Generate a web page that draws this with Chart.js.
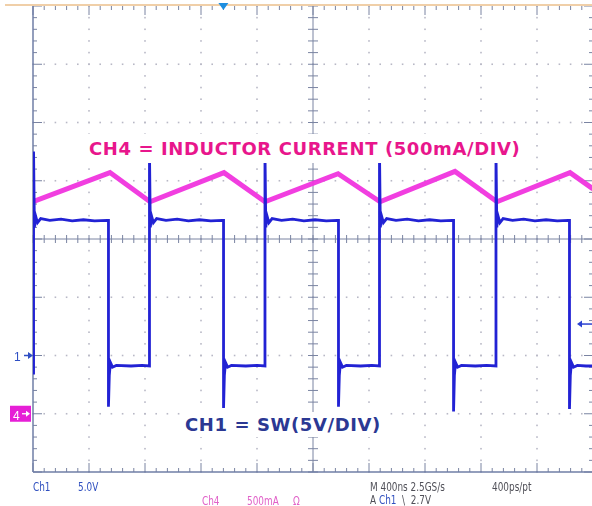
<!DOCTYPE html>
<html><head><meta charset="utf-8">
<script src="https://cdn.jsdelivr.net/npm/chart.js@4"></script>
<style>
html,body{margin:0;padding:0;background:#fff;overflow:hidden;width:592px;height:506px;}
#wrap{position:relative;width:600px;height:506px;}
canvas{position:absolute;left:0;top:0;}
.t{position:absolute;white-space:nowrap;}
.big{font-family:"DejaVu Sans",Verdana,sans-serif;font-weight:bold;font-size:18px;line-height:21px;letter-spacing:0.6px;background:#fff;}
.ro{font-family:"Liberation Sans Narrow","DejaVu Sans Condensed","Liberation Sans",sans-serif;font-size:11.5px;line-height:12px;transform:scaleX(0.86);transform-origin:0 50%;}
.mk{font-family:"Liberation Sans",sans-serif;font-size:12px;line-height:14px;}
</style></head><body>
<div id="wrap">
<canvas id="c" width="600" height="506"></canvas>
<div class="t big" style="left:85px;top:134px;padding:4px;color:#e8168c;">CH4 = INDUCTOR CURRENT (500mA/DIV)</div>
<div class="t big" style="left:183px;top:412px;padding:2px;color:#2b3893;">CH1 = SW(5V/DIV)</div>
<div class="t mk" style="left:14px;top:350px;color:#2f4fc4;">1</div>
<div class="t mk" style="left:13px;top:409px;color:#ffffff;">4</div>
<div class="t ro" style="left:33px;top:481px;color:#2f4fbf;">Ch1</div>
<div class="t ro" style="left:78px;top:481px;color:#2f4fbf;">5.0V</div>
<div class="t ro" style="left:202px;top:495px;color:#e060c8;">Ch4</div>
<div class="t ro" style="left:247px;top:495px;color:#e060c8;">500mA</div>
<div class="t ro" style="left:293px;top:495px;color:#e060c8;">Ω</div>
<div class="t ro" style="left:370px;top:481px;color:#505058;">M 400ns 2.5GS/s</div>
<div class="t ro" style="left:492px;top:481px;color:#505058;">400ps/pt</div>
<div class="t ro" style="left:370px;top:494px;color:#505058;">A <span style="color:#2f4fbf">Ch1</span> &nbsp;\ &nbsp;2.7V</div>
</div>
<script>
// ---- axis definitions (oscilloscope divisions) ----
const X_MIN = 0, X_STEP = 400, X_DIV = 10;        // time, ns (400 ns/div)
const V_MIN = -10, V_STEP = 5, V_DIV = 8;          // CH1, volts (5 V/div)
const A_MIN = -0.5, A_STEP = 0.5;                  // CH4, amps (500 mA/div)
const TRIG_T = 1360, TRIG_V = 2.7;                 // trigger position / level

// ---- CH1 : switch node voltage (V) vs time (ns) ----
const swTime = [
  0, 4, 4, 10, 18, 32, 55, 120, 200, 280, 360, 440, 530, 539, 539, 545, 553, 568, 595, 700, 780, 832,
  832, 838, 846, 860, 883, 950, 1030, 1110, 1190, 1270, 1352, 1361, 1361, 1367, 1375, 1390, 1417, 1520, 1600, 1657,
  1657, 1663, 1671, 1685, 1708, 1775, 1855, 1935, 2015, 2095, 2173, 2182, 2182, 2188, 2196, 2211, 2238, 2340, 2420, 2475,
  2475, 2481, 2489, 2503, 2526, 2593, 2673, 2753, 2833, 2913, 2995, 3004, 3004, 3010, 3018, 3033, 3060, 3160, 3240, 3307,
  3307, 3313, 3321, 3335, 3358, 3425, 3505, 3585, 3665, 3745, 3823, 3832, 3832, 3838, 3846, 3861, 3888, 3950, 4000
];
const swVolts = [
  -1.5, -1.5, 17.5, 11.0, 12.0, 11.4, 11.75, 11.6, 11.7, 11.55, 11.65, 11.55, 11.6, 11.6, -4.4, -1.7, -0.6, -1.0, -0.85, -0.9, -0.85, -0.9,
  17.5, 11.0, 12.0, 11.4, 11.75, 11.6, 11.7, 11.55, 11.65, 11.55, 11.6, 11.6, -4.5, -1.7, -0.6, -1.0, -0.85, -0.9, -0.85, -0.9,
  17.5, 11.0, 12.0, 11.4, 11.75, 11.6, 11.7, 11.55, 11.65, 11.55, 11.6, 11.6, -4.4, -1.7, -0.6, -1.0, -0.85, -0.9, -0.85, -0.9,
  17.5, 11.0, 12.0, 11.4, 11.75, 11.6, 11.7, 11.55, 11.65, 11.55, 11.6, 11.6, -4.8, -1.7, -0.6, -1.0, -0.85, -0.9, -0.85, -0.9,
  17.5, 11.0, 12.0, 11.4, 11.75, 11.6, 11.7, 11.55, 11.65, 11.55, 11.6, 11.6, -4.6, -1.7, -0.6, -1.0, -0.85, -0.9, -0.9
];

// ---- CH4 : inductor current (A) vs time (ns) ----
const ilTime = [0, 550, 836, 1364, 1657, 2179, 2479, 3014, 3314, 3836, 4000];
const ilAmps = [1.82, 2.07, 1.82, 2.07, 1.82, 2.06, 1.82, 2.08, 1.82, 2.07, 1.93];

const swPoints = swTime.map((t, i) => ({x: t, y: swVolts[i]}));
const ilPoints = ilTime.map((t, i) => ({x: t, y: ilAmps[i]}));

function ln(ctx, x1, y1, x2, y2){ ctx.beginPath(); ctx.moveTo(x1, y1); ctx.lineTo(x2, y2); ctx.stroke(); }

const scopeFrame = {
  id: 'scopeFrame',
  beforeDatasetsDraw(chart){
    const {ctx, chartArea: a} = chart;
    const xs = chart.scales.x, ys = chart.scales.y;
    const X = v => xs.getPixelForValue(v), Y = v => ys.getPixelForValue(v);
    ctx.save();
    ctx.fillStyle = '#b8b8c6';
    for (let i = 1; i < X_DIV; i++){
      if (i === X_DIV/2) continue;
      const px = X(X_MIN + i*X_STEP);
      for (let j = 0; j <= V_DIV*5; j++){ const py = Y(V_MIN + j*V_STEP/5); ctx.fillRect(px-0.8, py-0.8, 1.6, 1.6); }
    }
    for (let j = 1; j < V_DIV; j++){
      if (j === V_DIV/2) continue;
      const py = Y(V_MIN + j*V_STEP);
      for (let i = 0; i <= X_DIV*5; i++){ const px = X(X_MIN + i*X_STEP/5); ctx.fillRect(px-0.8, py-0.8, 1.6, 1.6); }
    }
    ctx.strokeStyle = '#7a84a2'; ctx.lineWidth = 1;
    const cx = X(X_MIN + X_DIV/2*X_STEP), cy = Y(V_MIN + V_DIV/2*V_STEP);
    ln(ctx, a.left, cy, a.right, cy); ln(ctx, cx, a.top, cx, a.bottom);
    for (let i = 0; i <= X_DIV*5; i++){ const px = X(X_MIN + i*X_STEP/5); ln(ctx, px, cy-4, px, cy+4); }
    for (let j = 0; j <= V_DIV*5; j++){ const py = Y(V_MIN + j*V_STEP/5); ln(ctx, cx-5, py, cx+5, py); }
    for (let i = 0; i <= X_DIV*5; i++){
      const px = X(X_MIN + i*X_STEP/5), L = (i % 5 === 0) ? 9 : 4;
      ln(ctx, px, a.top, px, a.top+L); ln(ctx, px, a.bottom, px, a.bottom-L);
    }
    for (let j = 0; j <= V_DIV*5; j++){
      const py = Y(V_MIN + j*V_STEP/5), L = (j % 5 === 0) ? 9 : 4;
      ln(ctx, a.left, py, a.left+L, py); ln(ctx, a.right, py, a.right-L, py);
    }
    ctx.strokeStyle = '#6f7ea6'; ctx.lineWidth = 1.5;
    ln(ctx, a.left, a.top, a.left, a.bottom); ln(ctx, a.left, a.bottom, a.right, a.bottom); ln(ctx, a.right, a.top, a.right, a.bottom);
    ctx.strokeStyle = '#f0cfa8'; ctx.lineWidth = 2;
    ln(ctx, 5, a.top-1, a.right, a.top-1);
    ctx.restore();
  },
  afterDraw(chart){
    const {ctx, chartArea: a} = chart;
    const xs = chart.scales.x, ys = chart.scales.y, ya = chart.scales.yA;
    ctx.save();
    const tx = xs.getPixelForValue(TRIG_T);
    ctx.fillStyle = '#1e8ee0';
    ctx.beginPath(); ctx.moveTo(tx-5, a.top-3); ctx.lineTo(tx+5, a.top-3); ctx.lineTo(tx, a.top+4); ctx.closePath(); ctx.fill();
    const ty = ys.getPixelForValue(TRIG_V);
    ctx.strokeStyle = '#2a40d0'; ctx.fillStyle = '#2a40d0'; ctx.lineWidth = 1.5;
    ln(ctx, 580, ty, 592, ty);
    ctx.beginPath(); ctx.moveTo(577, ty); ctx.lineTo(582, ty-3.5); ctx.lineTo(582, ty+3.5); ctx.closePath(); ctx.fill();
    const g1 = ys.getPixelForValue(0);
    ctx.strokeStyle = '#2f4fc4'; ctx.fillStyle = '#2f4fc4'; ctx.lineWidth = 1.5;
    ln(ctx, 24, g1, 30, g1);
    ctx.beginPath(); ctx.moveTo(33, g1); ctx.lineTo(28, g1-3.5); ctx.lineTo(28, g1+3.5); ctx.closePath(); ctx.fill();
    const g4 = ya.getPixelForValue(0);
    ctx.fillStyle = '#e61fd6';
    ctx.fillRect(10, g4-8, 21, 16);
    ctx.strokeStyle = '#ffffff'; ctx.fillStyle = '#ffffff'; ctx.lineWidth = 1.3;
    ln(ctx, 22, g4, 27, g4);
    ctx.beginPath(); ctx.moveTo(30, g4); ctx.lineTo(26, g4-3); ctx.lineTo(26, g4+3); ctx.closePath(); ctx.fill();
    ctx.restore();
  }
};

new Chart(document.getElementById('c'), {
  type: 'line',
  data: {
    datasets: [
      { label: 'CH1 SW', data: swPoints, yAxisID: 'y', borderColor: '#2222d4', borderWidth: 2.8,
        pointRadius: 0, tension: 0, fill: false },
      { label: 'CH4 IL', data: ilPoints, yAxisID: 'yA', borderColor: 'rgba(240,52,222,0.95)', borderWidth: 5,
        pointRadius: 0, tension: 0, fill: false }
    ]
  },
  options: {
    responsive: false, animation: false, events: [],
    layout: { padding: { left: 33, right: 7, top: 6, bottom: 34 } },
    scales: {
      x: { type: 'linear', min: X_MIN, max: X_MIN + X_DIV*X_STEP, display: false },
      y: { type: 'linear', min: V_MIN, max: V_MIN + V_DIV*V_STEP, display: false },
      yA: { type: 'linear', min: A_MIN, max: A_MIN + V_DIV*A_STEP, display: false, position: 'right' }
    },
    plugins: { legend: { display: false }, tooltip: { enabled: false } }
  },
  plugins: [scopeFrame]
});
</script>
</body></html>
